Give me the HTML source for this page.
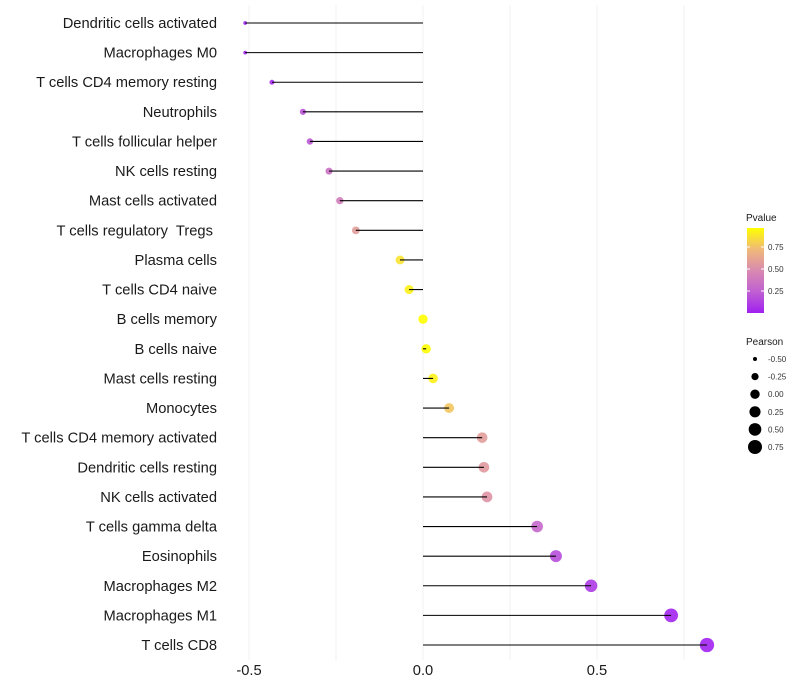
<!DOCTYPE html>
<html><head><meta charset="utf-8"><style>
body{margin:0;background:#fff;font-family:"Liberation Sans",sans-serif}
svg{display:block}
text{white-space:pre}
</style></head><body>
<svg id="chart" width="800" height="700">
<g id="grid"></g><g id="pts"></g><g id="marks"></g><g id="ylabels"></g><g id="xlabels"></g><g id="legend"></g>
</svg>
<script>
const categories=["Dendritic cells activated","Macrophages M0","T cells CD4 memory resting","Neutrophils","T cells follicular helper","NK cells resting","Mast cells activated","T cells regulatory  Tregs ","Plasma cells","T cells CD4 naive","B cells memory","B cells naive","Mast cells resting","Monocytes","T cells CD4 memory activated","Dendritic cells resting","NK cells activated","T cells gamma delta","Eosinophils","Macrophages M2","Macrophages M1","T cells CD8"];
const pearson=[-0.511,-0.511,-0.434,-0.345,-0.325,-0.27,-0.239,-0.193,-0.066,-0.04,0.0,0.009,0.029,0.075,0.17,0.175,0.184,0.328,0.382,0.483,0.713,0.816];
const pvalue=[0.02,0.02,0.05,0.2,0.22,0.35,0.42,0.6,0.9,0.95,1.0,1.0,0.95,0.8,0.6,0.58,0.55,0.3,0.18,0.1,0.02,0.01];
const xTicks=[-0.5,0.0,0.5];
const xTickLabels=["-0.5","0.0","0.5"];
const gridVals=[-0.5,-0.25,0,0.25,0.5,0.75];
const pTicks=[0.25,0.5,0.75];
const sizeTicks=[-0.5,-0.25,0,0.25,0.5,0.75];
const NS="http://www.w3.org/2000/svg";
const X=v=>423+v*348;
const Y=i=>23+i*(622/21);
const R=v=>Math.sqrt(Math.max(1,22+36*v));
const stops=[[0,[160,32,240]],[0.25,[192,96,210]],[0.5,[217,138,176]],[0.75,[240,185,120]],[1,[255,255,0]]];
function col(p){for(let k=1;k<stops.length;k++){if(p<=stops[k][0]){const a=stops[k-1],b=stops[k],t=(p-a[0])/(b[0]-a[0]);return `rgb(${a[1].map((c,j)=>Math.round(c+(b[1][j]-c)*t)).join(',')})`;}}return 'rgb(255,255,0)';}
function el(tag,attrs,parent,text){const e=document.createElementNS(NS,tag);for(const k in attrs)e.setAttribute(k,attrs[k]);if(text!==undefined)e.textContent=text;document.getElementById(parent).appendChild(e);return e;}
gridVals.forEach(v=>{const l=el('line',{x1:X(v),x2:X(v),y1:5,y2:660,stroke:'#f0f0f0','stroke-width':1},'grid');

});
categories.forEach((c,i)=>{
const y=Y(i);
const ci=el('circle',{cx:X(pearson[i]),cy:y,r:R(pearson[i]),fill:col(pvalue[i]),'fill-opacity':0.9},'pts');


const ln=el('line',{x1:X(0),x2:X(pearson[i]),y1:y,y2:y,stroke:'#000','stroke-width':1.1},'marks');


const t=el('text',{x:217,y:y+5,'text-anchor':'end','font-size':14.7,fill:'#1a1a1a'},'ylabels',c);


});
xTicks.forEach((v,i)=>{const t=el('text',{x:X(v),y:675,'text-anchor':'middle','font-size':14.7,fill:'#1a1a1a'},'xlabels',xTickLabels[i]);

});
const defs=el('defs',{},'legend');
const lg=document.createElementNS(NS,'linearGradient');lg.setAttribute('id','pg');lg.setAttribute('x1','0');lg.setAttribute('y1','1');lg.setAttribute('x2','0');lg.setAttribute('y2','0');defs.appendChild(lg);
stops.forEach(s=>{const st=document.createElementNS(NS,'stop');st.setAttribute('offset',s[0]);st.setAttribute('stop-color',`rgb(${s[1].join(',')})`);lg.appendChild(st);});
const pt=el('text',{x:746,y:221,'font-size':10,fill:'#1a1a1a'},'legend','Pvalue');


const cb=el('rect',{x:747,y:228,width:17,height:85,fill:'url(#pg)'},'legend');


const PY=p=>313-p*88;
pTicks.forEach(p=>{el('line',{x1:747,x2:750,y1:PY(p),y2:PY(p),stroke:'#fff'},'legend');el('line',{x1:761,x2:764,y1:PY(p),y2:PY(p),stroke:'#fff'},'legend');
const t=el('text',{x:768,y:PY(p)+3,'font-size':8,fill:'#333'},'legend',p.toFixed(2));

});
const st2=el('text',{x:746,y:345,'font-size':10,fill:'#1a1a1a'},'legend','Pearson');


sizeTicks.forEach((v,i)=>{const y=359+i*17.6;
const c=el('circle',{cx:755,cy:y,r:R(v),fill:'#000'},'legend');


const t=el('text',{x:768,y:y+3,'font-size':8,fill:'#333'},'legend',v.toFixed(2));

});
</script>
</body></html>
